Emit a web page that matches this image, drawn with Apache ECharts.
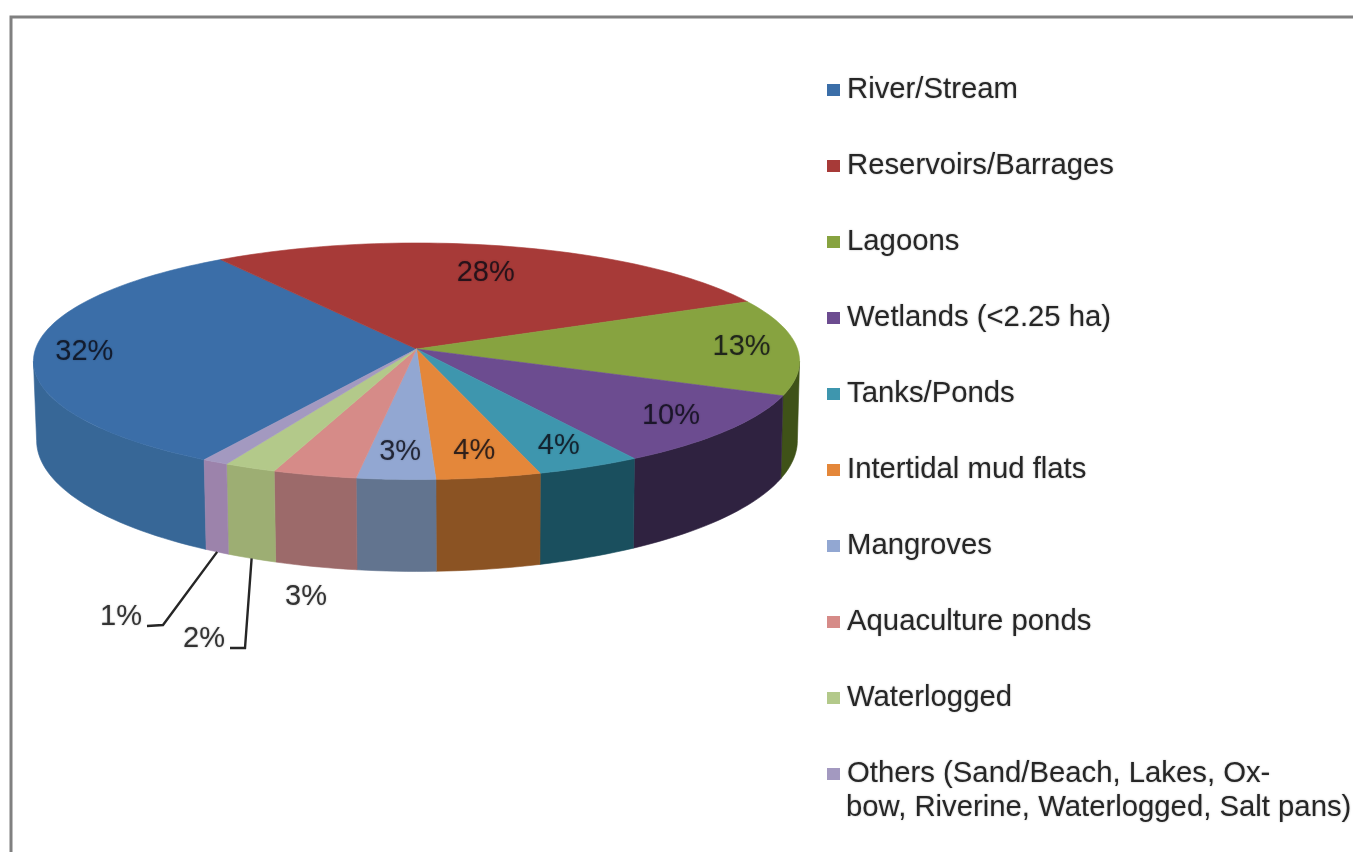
<!DOCTYPE html>
<html>
<head>
<meta charset="utf-8">
<style>html,body{margin:0;padding:0;background:#fff}#c{width:1353px;height:852px}</style>
<script src="https://cdn.jsdelivr.net/npm/echarts@6/dist/echarts.min.js"></script>
</head>
<body>
<div id="c"></div>
<script>
// ---- data ----
var categories = ['River/Stream','Reservoirs/Barrages','Lagoons','Wetlands (<2.25 ha)','Tanks/Ponds','Intertidal mud flats','Mangroves','Aquaculture ponds','Waterlogged','Others (Sand/Beach, Lakes, Ox-\nbow, Riverine, Waterlogged, Salt pans)'];
var values = [32.1,27.5,13.2,10,4,4,3,3.2,2,1];
// ---- styles ----
var topColors  = ['#3b6ea8','#a73a38','#87a340','#6c4c90','#3e96ae','#e4873a','#92a7d2','#d68b88','#b3c98a','#a399c0'];
var wallColors = ['#376797','#7a2a28','#3f5218','#2f2240','#1a4f5e','#8b5323','#62748f','#9c6a6a','#9dae73','#9c83ab'];
var labelFraction = [0.87,0.726,0.855,0.83,0.838,0.815,0.81,null,null,null];
var outerLabels = {7:{pos:[306,597]}, 8:{pos:[204,639], path:[[245,648],[230,648]]}, 9:{pos:[121,617], path:[[163,625],[147,626]]}};
// ---- projection of the pie disc ----
var CX=416.5, CY=349, RX=381, RY=117, K=0.1036, DEPTH=78, START=210.5;
function projectAt(deg,r){
  var t=deg*Math.PI/180,u=r*Math.sin(t),v=r*Math.cos(t),w=1+K*v;
  return [CX+RX*u/w,CY-RY*v/w];
}
function project(deg){return projectAt(deg,1);}
function projectBottom(deg){
  var t=deg*Math.PI/180,v=Math.cos(t),w=1+K*v,p=project(deg);
  return [CX+(p[0]-CX)*0.993+0.5,p[1]+DEPTH/Math.pow(w,1.5)];
}
var total=values.reduce(function(a,b){return a+b;},0);
var starts=[],acc=START;
values.forEach(function(x){starts.push(acc>=360?acc-360:acc);acc+=x/total*360;});
// the silhouette of the wall runs where the projected rim is widest
var WALL_FROM=Math.acos(-K)*180/Math.PI, WALL_TO=360-WALL_FROM;

function arc(a,b,fn){var pts=[],n=Math.max(2,Math.ceil(Math.abs(b-a)/1.5));for(var i=0;i<=n;i++){pts.push(fn(a+(b-a)*i/n));}return pts;}

function makeRender(idx){
  return function(params,api){
    var val=api.value(0),a=starts[idx],b=a+val/total*360,children=[];
    var wa=Math.max(a,WALL_FROM),wb=Math.min(b,WALL_TO);
    if(wb>wa){
      var pts=arc(wa,wb,project).concat(arc(wa,wb,projectBottom).reverse());
      children.push({type:'polygon',z2:1,shape:{points:pts},style:{fill:wallColors[idx],stroke:wallColors[idx],lineWidth:0.6}});
    }
    var top=[[CX,CY]].concat(arc(a,b,project));
    children.push({type:'polygon',z2:10,shape:{points:top},style:{fill:topColors[idx],stroke:topColors[idx],lineWidth:0.6}});
    var mid=(a+b)/2,pos,o=outerLabels[idx];
    if(o){
      pos=o.pos;
      if(o.path){
        var s=projectBottom(mid);
        children.push({type:'polyline',z2:20,shape:{points:[[s[0],s[1]]].concat(o.path)},style:{fill:null,stroke:'#262626',lineWidth:2.4}});
      }
    } else {
      pos=projectAt(mid,labelFraction[idx]);
    }
    children.push({type:'text',z2:30,style:{text:Math.round(val)+'%',x:pos[0],y:pos[1],align:'center',verticalAlign:'middle',font:'29px "Liberation Sans"',fill:o?'#333333':'rgba(10,10,20,0.78)',textShadowColor:'rgba(0,0,0,0.3)',textShadowBlur:2}});
    return {type:'group',children:children};
  };
}

var series=categories.map(function(name,i){
  return {name:name,type:'custom',coordinateSystem:'none',silent:true,animation:false,
    itemStyle:{color:topColors[i]},data:[[values[i]]],renderItem:makeRender(i)};
});

var chart=echarts.init(document.getElementById('c'));
chart.setOption({
  animation:false,
  backgroundColor:'#ffffff',
  legend:{
    orient:'vertical',left:822,top:70,selectedMode:false,
    itemWidth:13,itemHeight:12,itemGap:46,icon:'rect',
    formatter:function(n){return n.split('\n')[0];},
    textStyle:{fontFamily:'Liberation Sans',fontSize:29.3,lineHeight:30,color:'#262626',padding:[0,0,0,2],textShadowColor:'rgba(0,0,0,0.3)',textShadowBlur:2},
    data:categories
  },
  graphic:[
    {type:'polyline',shape:{points:[[11,852],[11,17],[1353,17]]},style:{fill:null,stroke:'#808080',lineWidth:3}},
    {type:'text',left:846,top:793,style:{text:categories[9].split('\n')[1],font:'29.3px "Liberation Sans"',fill:'#262626',textShadowColor:'rgba(0,0,0,0.3)',textShadowBlur:2}}
  ],
  series:series
});
</script>
</body>
</html>
